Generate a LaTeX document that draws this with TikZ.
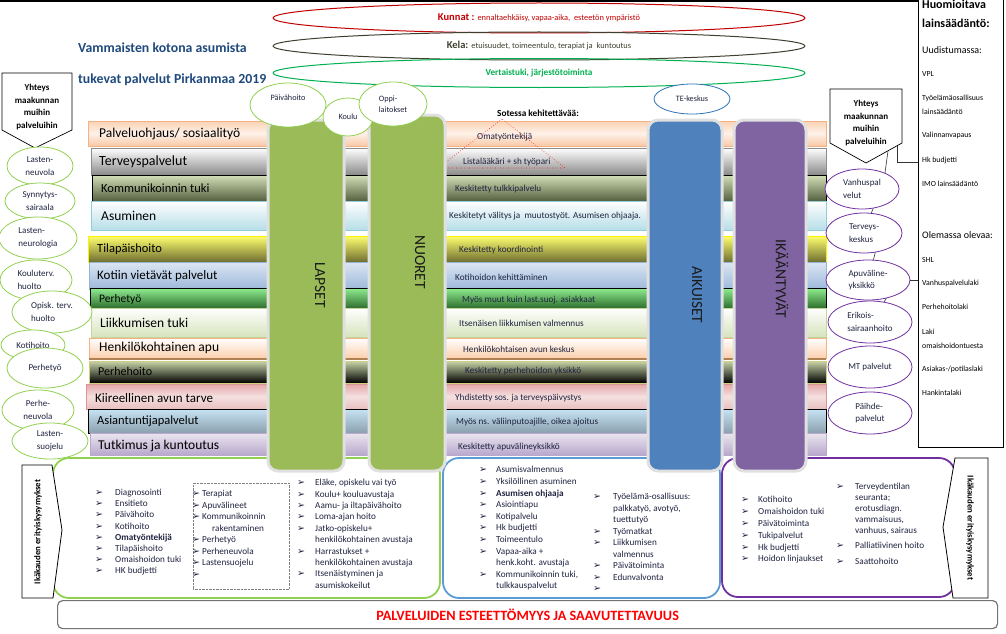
\documentclass[tikz,border=0pt]{standalone}
\usepackage{fontspec}
\setmainfont{Carlito}
\newfontfamily\dingfont{DejaVu Sans}
\usetikzlibrary{shapes.geometric}
\definecolor{ttlblue}{HTML}{1F497D}
\definecolor{ink}{HTML}{1F2340}
\definecolor{lapgreen}{HTML}{9BBB59}
\definecolor{ringgreen}{HTML}{92D050}
\definecolor{aikblue}{HTML}{4F81BD}
\definecolor{framblue}{HTML}{5B9BD5}
\definecolor{teblue}{HTML}{2E75B6}
\definecolor{ikpurple}{HTML}{8064A2}
\definecolor{ringpurple}{HTML}{7030A0}
\definecolor{kunred}{HTML}{C00000}
\definecolor{kelagrey}{HTML}{3F3F2F}
\definecolor{vertgreen}{HTML}{00B050}
% band shades, top / bottom / border
\definecolor{bAt}{HTML}{FAD3B5}\definecolor{bAm}{HTML}{FEF1E8}\definecolor{bAb}{HTML}{F9C9A6}\definecolor{bAd}{HTML}{F4B183}
\definecolor{bBb}{HTML}{8A8A8A}
\definecolor{bCt}{HTML}{D4E0B8}\definecolor{bCb}{HTML}{55603F}
\definecolor{bDb}{HTML}{B7DEE8}\definecolor{bDd}{HTML}{93CDDD}
\definecolor{bEt}{HTML}{FFFF70}\definecolor{bEb}{HTML}{6E6E30}
\definecolor{bFt}{HTML}{DCE6F2}\definecolor{bFb}{HTML}{9DB9DB}\definecolor{bFd}{HTML}{95B3D7}
\definecolor{bGt}{HTML}{90EE90}\definecolor{bGb}{HTML}{2F6F2F}
\definecolor{bHb}{HTML}{D6E3BC}\definecolor{bHd}{HTML}{C3D69B}
\definecolor{bIb}{HTML}{FBD0AE}\definecolor{bId}{HTML}{B08050}
\definecolor{bJt}{HTML}{C8D5A8}
\definecolor{bKt}{HTML}{E3A8A7}\definecolor{bKm}{HTML}{F5E0E0}\definecolor{bKb}{HTML}{E8C0BF}\definecolor{bKd}{HTML}{D99694}
\definecolor{bLt}{HTML}{C6E3F5}\definecolor{bLb}{HTML}{8AA0AE}
\definecolor{bMt}{HTML}{EBE6F0}\definecolor{bMb}{HTML}{B8A8CC}
\newcommand\blt{{\dingfont\fontsize{9.5}{9.5}\selectfont ➢}}
\newcommand\fs[2]{\fontsize{#1}{#2}\selectfont}
\tikzset{
  band/.style={line width=0.6pt},
  bandlbl/.style={anchor=west,font=\fs{13.5}{15},text=black,inner sep=0pt},
  bandmid/.style={anchor=west,font=\fs{9.2}{11},text=ink,inner sep=0pt},
  pillar/.style={rounded corners=10pt,draw=black!12,line width=3pt},
  pillarlbl/.style={rotate=-90,font=\fs{15.5}{17},text=black!90,inner sep=0pt},
  ring/.style={ellipse,draw=ringgreen,fill=white,line width=0.8pt,inner sep=0pt,
               align=center,font=\fs{8.2}{11.5},text=ink},
  lring/.style={ring,font=\fs{9}{12.5}},
  pring/.style={lring,draw=ringpurple},
  bigring/.style={ellipse,line width=1pt,inner sep=0pt,minimum width=532pt},
  frame/.style={rounded corners=16pt,line width=1.8pt},
  listcol/.style={anchor=north west,inner sep=0pt,text=ink,font=\fs{9.2}{11.5}},
  lawtxt/.style={anchor=west,inner sep=0pt,text=black,font=\fs{7.8}{10}},
  yhteys/.style={align=center,font=\bfseries\fs{9}{12.5},inner sep=0pt},
  conn/.style={draw=black!80,line width=0.6pt},
}

\begin{document}
\begin{tikzpicture}[x=1pt,y=-1pt]
  \useasboundingbox (0,0) rectangle (1006,634);
  \draw[line width=1.5pt] (0,1) -- (918,1);

  % title
  \node[anchor=west,font=\bfseries\fs{13.8}{15},text=ttlblue,inner sep=0pt] (ttl1) at (78,48) {Vammaisten kotona asumista};
  \node[anchor=west,font=\bfseries\fs{13.8}{15},text=ttlblue,inner sep=0pt] (ttl2) at (78,80) {tukevat palvelut Pirkanmaa 2019};

  % top rings
  \node[bigring,draw=kunred,minimum height=30pt] (kunnat) at (539,18)
    {\textcolor{kunred}{\bfseries\fs{10.5}{11}Kunnat :} \textcolor{kunred}{\fs{8.4}{9}ennaltaehkäisy, vapaa-aika,\ \ esteetön ympäristö}};
  \node[bigring,draw=kelagrey,minimum height=28pt] (kela) at (539,46)
    {\textcolor{kelagrey}{\bfseries\fs{10.5}{11}Kela:} \textcolor{kelagrey}{\fs{8.4}{9}etuisuudet, toimeentulo, terapiat ja\ \ kuntoutus}};
  \node[bigring,draw=vertgreen,minimum height=29pt] (vert) at (539,73)
    {\textcolor{vertgreen}{\bfseries\fs{9.2}{10}Vertaistuki, järjestötoiminta}};

  % bottom frames
  \draw[frame,draw=ringgreen] (53,458) rectangle (440,598);
  \draw[frame,draw=framblue] (443,458) rectangle (720,598);
  \draw[frame,draw=ringpurple] (722,458) rectangle (955,597);

  % service bands
  \path[band,draw=bAd,top color=bAt,bottom color=bAb,middle color=bAm] (88,121) rectangle (826,146);
  \path[band,draw=black!45,top color=white,bottom color=bBb] (91,148) rectangle (826,175);
  \path[band,draw=black,top color=bCt,bottom color=bCb] (92,175) rectangle (826,201);
  \path[band,draw=bDd,top color=white,bottom color=bDb] (91,201) rectangle (826,230);
  \path[band,draw=yellow,top color=bEt,bottom color=bEb] (88,236) rectangle (826,262);
  \path[band,draw=bFd,top color=bFt,bottom color=bFb] (89,262) rectangle (826,289);
  \path[band,draw=black,top color=bGt,bottom color=bGb] (90,288) rectangle (826,308);
  \path[band,draw=bHd,top color=white,bottom color=bHb] (91,308) rectangle (826,337);
  \path[band,draw=bAd,top color=white,bottom color=bIb] (89,338) rectangle (826,358);
  \draw[bId,line width=2.5pt] (89,359) -- (826,359);
  \path[band,draw=olive!40,top color=bJt,bottom color=black] (89,361) rectangle (826,383);
  \path[band,draw=bKd,top color=bKt,bottom color=bKb,middle color=bKm] (86,384) rectangle (826,409);
  \path[band,draw=black,top color=bLt,bottom color=bLb] (88,409) rectangle (826,433);
  \path[band,draw=bMb,top color=bMt,bottom color=bMb] (90,433) rectangle (826,455);

  \node[bandlbl] (b1) at (99,134) {Palveluohjaus/ sosiaalityö};
  \node[bandlbl,font=\fs{14}{15}] (b2) at (99,162) {Terveyspalvelut};
  \node[bandlbl,font=\fs{12.5}{15}] (b3) at (101,188) {Kommunikoinnin tuki};
  \node[bandlbl] (b4) at (101,216) {Asuminen};
  \node[bandlbl,font=\fs{12.5}{15}] (b5) at (97,249) {Tilapäishoito};
  \node[bandlbl,font=\fs{13}{15}] (b6) at (97,276) {Kotiin vietävät palvelut};
  \node[bandlbl,font=\fs{11.5}{15}] (b7) at (99,299) {Perhetyö};
  \node[bandlbl] (b8) at (100,323) {Liikkumisen tuki};
  \node[bandlbl] (b9) at (99,348) {Henkilökohtainen apu};
  \node[bandlbl,font=\fs{12}{15}] (b10) at (98,371) {Perhehoito};
  \node[bandlbl,font=\fs{13}{15}] (b11) at (95,398) {Kiireellinen avun tarve};
  \node[bandlbl,font=\fs{12.5}{15}] (b12) at (97,421) {Asiantuntijapalvelut};
  \node[bandlbl] (b13) at (98,446) {Tutkimus ja kuntoutus};

  \node[bandmid] (m1) at (477,137) {Omatyöntekijä};
  \node[bandmid] (m2) at (463,162) {Listalääkäri + sh työpari};
  \node[bandmid] (m3) at (455,189) {Keskitetty tulkkipalvelu};
  \node[bandmid] (m4) at (449,216) {Keskitetyt välitys ja\ \ muutostyöt. Asumisen ohjaaja.};
  \node[bandmid] (m5) at (459,250) {Keskitetty koordinointi};
  \node[bandmid] (m6) at (455,277) {Kotihoidon kehittäminen};
  \node[bandmid] (m7) at (462,300) {Myös muut kuin last.suoj. asiakkaat};
  \node[bandmid] (m8) at (459,323) {Itsenäisen liikkumisen valmennus};
  \node[bandmid] (m9) at (463,349) {Henkilökohtaisen avun keskus};
  \node[bandmid] (m10) at (465,371) {Keskitetty perhehoidon yksikkö};
  \node[bandmid] (m11) at (455,398) {Yhdistetty sos. ja terveyspäivystys};
  \node[bandmid] (m12) at (456,422) {Myös ns. väliinputoajille, oikea ajoitus};
  \node[bandmid] (m13) at (458,447) {Keskitetty apuvälineyksikkö};

  \node[font=\bfseries\fs{9.3}{10},text=black,inner sep=0pt] (sote) at (538,113) {Sotessa kehitettävää:};
  \draw[red,dotted,line width=0.6pt] (502,119) -- (438,168) -- (565,168) -- cycle;

  % age pillars
  \path[pillar,fill=lapgreen] (268,120) rectangle (344,471);
  \path[pillar,fill=lapgreen] (369,115) rectangle (445,471);
  \path[pillar,fill=aikblue] (648,120) rectangle (722,471);
  \path[pillar,fill=ikpurple] (734,120) rectangle (806,471);
  \node[pillarlbl] (lapset) at (320,285) {LAPSET};
  \node[pillarlbl] (nuoret) at (420,262) {NUORET};
  \node[pillarlbl] (aikuiset) at (697,295) {AIKUISET};
  \node[pillarlbl] (ikaant) at (782,279) {IKÄÄNTYVÄT};

  % rings over the pillars
  \node[ring,minimum width=76pt,minimum height=44pt] (paiva) at (288,105) {Päivähoito\\[3pt]};
  \node[ring,minimum width=50pt,minimum height=38pt] (koulu) at (348,117) {Koulu};
  \node[ring,minimum width=68pt,minimum height=44pt,align=left] (oppi) at (393,104) {Oppi-\\laitokset};
  \node[ring,draw=teblue,minimum width=76pt,minimum height=30pt] (te) at (692,99) {TE-keskus};

  % left column
  \draw[line width=0.7pt,fill=white] (2,73) -- (72,73) -- (72,130) -- (35,148) -- (2,130) -- cycle;
  \node[yhteys] (yhtL) at (37,107) {Yhteys\\maakunnan\\muihin\\palveluihin};
  \node[lring,minimum width=66pt,minimum height=38pt] (lneuv) at (40,166) {Lasten-\\neuvola};
  \node[lring,minimum width=70pt,minimum height=36pt] (synny) at (40,201) {Synnytys-\\sairaala};
  \node[lring,minimum width=78pt,minimum height=42pt,align=left] (lneuro) at (38,238) {Lasten-\\neurologia};
  \node[lring,minimum width=72pt,minimum height=40pt,align=left] (kterv) at (36,280) {Kouluterv.\\huolto};
  \node[lring,minimum width=80pt,minimum height=42pt,align=left] (opisk) at (52,312) {Opisk. terv.\\huolto};
  \node[lring,minimum width=64pt,minimum height=30pt] (kotih) at (33,345) {Kotihoito};
  \node[lring,minimum width=76pt,minimum height=40pt] (perhet) at (45,368) {Perhetyö};
  \node[lring,minimum width=72pt,minimum height=40pt] (perhen) at (38,410) {Perhe-\\neuvola};
  \node[lring,minimum width=76pt,minimum height=36pt] (lsuoj) at (50,441) {Lasten-\\suojelu};

  % right column
  \node[draw,line width=0.8pt,minimum width=85pt,minimum height=449pt,anchor=north west,inner sep=0pt] (laki) at (918,-2) {};
  \node[lawtxt,font=\bfseries\fs{12}{14}] (law0) at (922,4) {Huomioitava};
  \node[lawtxt,font=\bfseries\fs{12}{14}] (law1) at (922,23) {lainsäädäntö:};
  \node[lawtxt,font=\fs{10}{12}] (law2) at (922,50) {Uudistumassa:};
  \node[lawtxt] (law3) at (922,74) {VPL};
  \node[lawtxt] (law4) at (922,98) {Työelämäosallisuus};
  \node[lawtxt] (law5) at (922,112) {lainsäädäntö};
  \node[lawtxt] (law6) at (922,135) {Valinnanvapaus};
  \node[lawtxt] (law7) at (922,160) {Hk budjetti};
  \node[lawtxt] (law8) at (922,184) {IMO lainsäädäntö};
  \node[lawtxt,font=\fs{10}{12}] (law9) at (922,235) {Olemassa olevaa:};
  \node[lawtxt] (law10) at (922,260) {SHL};
  \node[lawtxt] (law11) at (922,283) {Vanhuspalvelulaki};
  \node[lawtxt] (law12) at (922,307) {Perhehoitolaki};
  \node[lawtxt] (law13) at (922,332) {Laki};
  \node[lawtxt] (law14) at (922,346) {omaishoidontuesta};
  \node[lawtxt] (law15) at (922,369) {Asiakas-/potilaslaki};
  \node[lawtxt] (law16) at (922,393) {Hankintalaki};

  \draw[line width=0.7pt,fill=white] (830,89) -- (902,89) -- (902,143) -- (866,163) -- (830,143) -- cycle;
  \node[yhteys] (yhtR) at (866,123) {Yhteys\\maakunnan\\muihin\\palveluihin};
  \coordinate (yhtRtip) at (888,151);
  \coordinate (yhtRfoot) at (897,146);
  \coordinate (lawHk) at (918,162);
  \node[pring,minimum width=74pt,minimum height=40pt,align=left] (vanhus) at (862,189) {Vanhuspal\\velut};
  \node[pring,minimum width=76pt,minimum height=40pt,align=left] (tkesk) at (864,233) {Terveys-\\keskus};
  \node[pring,minimum width=84pt,minimum height=40pt,align=left] (apuv) at (868,280) {Apuväline-\\yksikkö};
  \node[pring,minimum width=84pt,minimum height=42pt,align=left] (erik) at (870,322) {Erikois-\\sairaanhoito};
  \node[pring,minimum width=84pt,minimum height=42pt] (mtpal) at (870,367) {MT palvelut};
  \node[pring,minimum width=84pt,minimum height=42pt,align=left] (paihde) at (870,413) {Päihde-\\palvelut};

  \draw[conn] (yhtRtip) -- (vanhus.35);
  \draw[conn] (yhtRfoot) |- (lawHk);
  \draw[conn] (vanhus.-60) -- (tkesk.70);
  \draw[conn] (tkesk.-60) -- (apuv.75);
  \draw[conn] (apuv.-45) -- (erik.55);
  \draw[conn] (apuv.east) -- (apuv.east -| laki.west);

  % age-specific questions
  \draw[line width=0.8pt,fill=white] (22,465) -- (52,465) -- (62,530) -- (53,598) -- (22,598) -- cycle;
  \node[rotate=90,font=\bfseries\fs{8.8}{10},inner sep=0pt] (ikaL) at (38,532) {Ikäkauden erityiskysymykset};
  \draw[line width=0.8pt,fill=white] (955,458) -- (988,458) -- (988,598) -- (953,598) -- (943,527) -- cycle;
  \node[rotate=-90,font=\bfseries\fs{8.8}{10},inner sep=0pt] (ikaR) at (970,528) {Ikäkauden erityiskysymykset};

  \node[draw=black!55,line width=1.2pt,rounded corners=5pt,minimum width=940pt,minimum height=28pt,
        anchor=north west,text=red,font=\bfseries\fs{14.2}{15}] (esteet) at (57,600)
    {PALVELUIDEN ESTEETTÖMYYS JA SAAVUTETTAVUUS};

  % lists
  \node[listcol,font=\fs{9.2}{11.2}] (lst1) at (95,487.5) {\begin{tabular}{@{}p{20pt}@{}l@{}}
    \blt & Diagnosointi\\ \blt & Ensitieto\\ \blt & Päivähoito\\ \blt & Kotihoito\\
    \blt & \textbf{Omatyöntekijä}\\ \blt & Tilapäishoito\\ \blt & Omaishoidon tuki\\ \blt & HK budjetti
  \end{tabular}};
  \node[draw=black!50,densely dotted,minimum width=96pt,minimum height=106pt,anchor=north west,inner sep=0pt] (dotbox) at (193,483) {};
  \node[listcol] (lst2) at (192,488.5) {\begin{tabular}{@{}p{10pt}@{}l@{}}
    \blt & Terapiat\\ \blt & Apuvälineet\\ \blt & Kommunikoinnin\\ & \hspace{10pt}rakentaminen\\
    \blt & Perhetyö\\ \blt & Perheneuvola\\ \blt & Lastensuojelu\\ \blt &
  \end{tabular}};
  \node[listcol,font=\fs{9.2}{11.4}] (lst3) at (297,477.5) {\begin{tabular}{@{}p{18pt}@{}l@{}}
    \blt & Eläke, opiskelu vai työ\\ \blt & Koulu+ kouluavustaja\\ \blt & Aamu- ja iltapäivähoito\\
    \blt & Loma-ajan hoito\\ \blt & Jatko-opiskelu+\\ & henkilökohtainen avustaja\\
    \blt & Harrastukset +\\ & henkilökohtainen avustaja\\ \blt & Itsenäistyminen ja\\ & asumiskokeilut
  \end{tabular}};
  \node[listcol,font=\fs{9.2}{11.6}] (lst4) at (479,464.5) {\begin{tabular}{@{}p{17pt}@{}l@{}}
    \blt & Asumisvalmennus\\ \blt & Yksilöllinen asuminen\\ \blt & \textbf{Asumisen ohjaaja}\\
    \blt & Asiointiapu\\ \blt & Kotipalvelu\\ \blt & Hk budjetti\\ \blt & Toimeentulo\\
    \blt & Vapaa-aika +\\ & henk.koht. avustaja\\ \blt & Kommunikoinnin tuki,\\ & tulkkauspalvelut
  \end{tabular}};
  \node[listcol] (lst5) at (593,491.5) {\begin{tabular}{@{}p{20pt}@{}l@{}}
    \blt & Työelämä-osallisuus:\\ & palkkatyö, avotyö,\\ & tuettutyö\\ \blt & Työmatkat\\
    \blt & Liikkumisen\\ & valmennus\\ \blt & Päivätoiminta\\ \blt & Edunvalvonta\\ \blt &
  \end{tabular}};
  \node[listcol,font=\fs{9.2}{11.8}] (lst6) at (741,494.5) {\begin{tabular}{@{}p{17pt}@{}l@{}}
    \blt & Kotihoito\\ \blt & Omaishoidon tuki\\ \blt & Päivätoiminta\\ \blt & Tukipalvelut\\
    \blt & Hk budjetti\\ \blt & Hoidon linjaukset
  \end{tabular}};
  \node[listcol,font=\fs{9.2}{11.1}] (lst7) at (836,481.5) {\begin{tabular}{@{}p{19pt}@{}l@{}}
    \blt & Terveydentilan\\ & seuranta;\\ & erotusdiagn.\\ & vammaisuus,\\ & vanhuus, sairaus\\[4pt]
    \blt & Palliatiivinen hoito\\[4pt] \blt & Saattohoito
  \end{tabular}};
\end{tikzpicture}
\end{document}
